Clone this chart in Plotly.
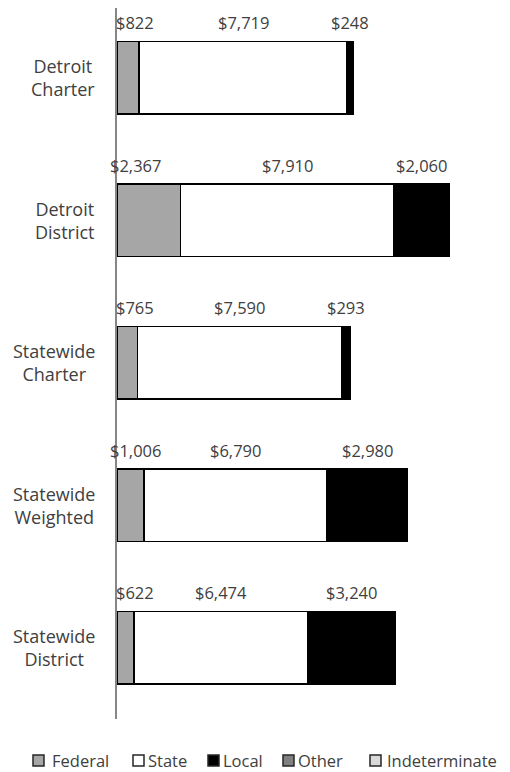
import plotly.graph_objects as go

categories = ["Detroit Charter", "Detroit District", "Statewide Charter", "Statewide Weighted", "Statewide District"]
category_labels = ["Detroit<br>Charter", "Detroit<br>District", "Statewide<br>Charter", "Statewide<br>Weighted", "Statewide<br>District"]
federal = [822, 2367, 765, 1006, 622]
state = [7719, 7910, 7590, 6790, 6474]
local = [248, 2060, 293, 2980, 3240]
other = [0, 0, 0, 0, 0]
indeterminate = [0, 0, 0, 0, 0]
series_names = ["Federal", "State", "Local", "Other", "Indeterminate"]
series_colors = ["#a6a6a6", "#ffffff", "#000000", "#808080", "#d9d9d9"]

FONT = "Open Sans"
TXT = "#404040"

# figure geometry (the page has an 8px body margin)
OFF = 8
W, H = 502, 764
ML, MR, MT, MB = 109, 16, 0, 53
PW, PH = W - ML - MR, H - MT - MB


def fx(px):
    return (px - OFF - ML) / PW


def fy(py):
    return 1 - (py - OFF - MT) / PH


fig = go.Figure()
for name, vals, col in zip(series_names, [federal, state, local, other, indeterminate], series_colors):
    fig.add_trace(go.Bar(
        name=name, y=categories, x=vals, orientation="h",
        marker=dict(color=col, line=dict(color="#000000", width=1.5)),
        hoverinfo="x+name", showlegend=False,
    ))

annotations = []
shapes = []
FED_LABEL_X = 680
for i, cat in enumerate(categories):
    f, s, l = federal[i], state[i], local[i]
    pos = [(FED_LABEL_X, f), (f + s / 2, s), (f + s + l / 2, l)]
    for x, v in pos:
        annotations.append(dict(
            x=x, y=cat, xref="x", yref="y", text=f"${v:,}", showarrow=False,
            xanchor="center", yanchor="middle", yshift=55,
            font=dict(family=FONT, size=16.5, color=TXT),
        ))
    annotations.append(dict(
        x=0, y=cat, xref="paper", yref="y", text=category_labels[i], showarrow=False,
        xanchor="right", yanchor="middle", align="center", xshift=-20,
        font=dict(family=FONT, size=18, color=TXT),
    ))

# legend (drawn as swatches + text to match the original's compact spacing)
LEG_SQ_X = [33, 133, 208, 283, 370]
LEG_TX_X = [50, 146, 221, 296, 385]
LEG_SQ_TOP, LEG_SQ_BOT, LEG_MID = 755, 766, 760.5
for name, col, sx, tx in zip(series_names, series_colors, LEG_SQ_X, LEG_TX_X):
    shapes.append(dict(type="rect", xref="paper", yref="paper",
                       x0=fx(sx), x1=fx(sx + 11), y0=fy(LEG_SQ_BOT), y1=fy(LEG_SQ_TOP),
                       fillcolor=col, line=dict(color="#262626", width=1.5), layer="above"))
    annotations.append(dict(x=fx(tx), y=fy(LEG_MID), xref="paper", yref="paper", text=name,
                            showarrow=False, xanchor="left", yanchor="middle",
                            font=dict(family=FONT, size=16.5, color=TXT)))

fig.update_layout(
    barmode="stack",
    bargap=0.49,
    width=W, height=H,
    margin=dict(l=ML, r=MR, t=MT, b=MB, autoexpand=False),
    plot_bgcolor="white", paper_bgcolor="white",
    font=dict(family=FONT, size=16, color=TXT),
    annotations=annotations,
    shapes=shapes,
    showlegend=False,
)
fig.update_xaxes(range=[0, 14000], showgrid=False, showticklabels=False, zeroline=False, showline=False)
fig.update_yaxes(categoryorder="array", categoryarray=categories, range=[4.5, -0.49],
                 showticklabels=False, showline=True, linecolor="#868686", linewidth=1.5,
                 showgrid=False, ticks="")

fig.write_html("out.html")
